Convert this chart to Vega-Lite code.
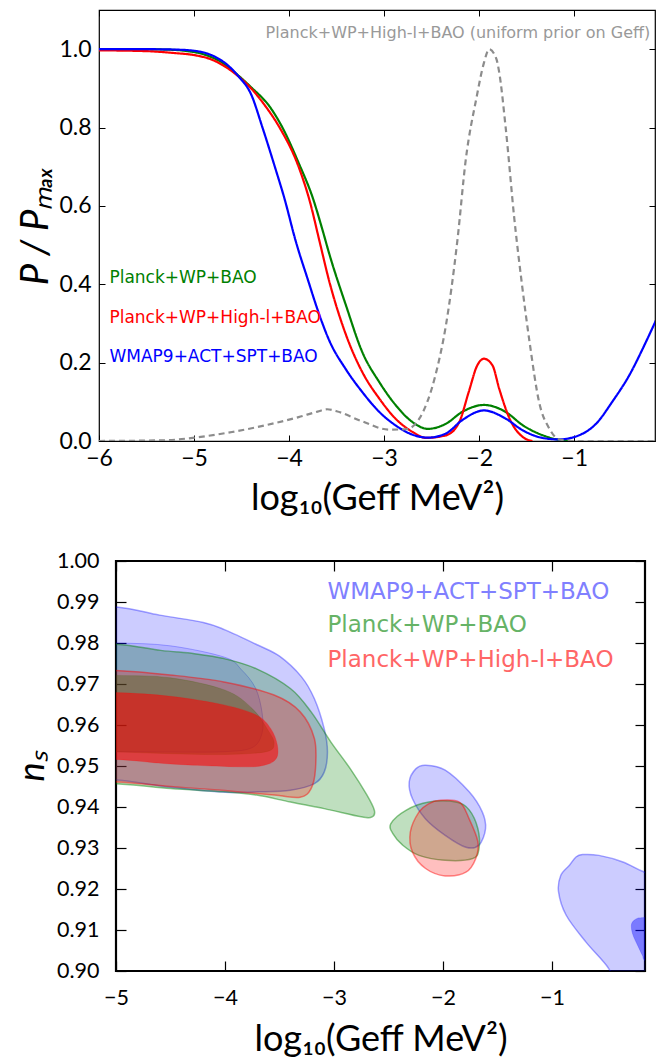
{
  "$schema": "https://vega.github.io/schema/vega-lite/v6.json",
  "background": "white",
  "padding": {"left": 13, "top": 8, "right": 0, "bottom": 0},
  "bounds": "flush",
  "spacing": 120,
  "resolve": {"scale": {"color": "independent"}},
  "config": {
    "view": {"stroke": "black"},
    "axis": {"domain": false, "grid": false, "tickColor": "black", "labelColor": "black", "titleColor": "black", "labelFont": "Lato", "titleFont": "Lato", "labelFlush": false, "labelOverlap": false, "titleFontWeight": "normal"}
  },
  "datasets": {
    "curves": [
      {"s": "Planck+WP+BAO", "x": -6, "y": 1.0}, {"s": "Planck+WP+BAO", "x": -5.6, "y": 1.0}, {"s": "Planck+WP+BAO", "x": -5.3, "y": 0.999}, {"s": "Planck+WP+BAO", "x": -5.1, "y": 0.996}, {"s": "Planck+WP+BAO", "x": -4.9, "y": 0.987}, {"s": "Planck+WP+BAO", "x": -4.7, "y": 0.965}, {"s": "Planck+WP+BAO", "x": -4.53, "y": 0.932}, {"s": "Planck+WP+BAO", "x": -4.4, "y": 0.903}, {"s": "Planck+WP+BAO", "x": -4.2, "y": 0.852}, {"s": "Planck+WP+BAO", "x": -4.07, "y": 0.8}, {"s": "Planck+WP+BAO", "x": -3.9, "y": 0.71}, {"s": "Planck+WP+BAO", "x": -3.75, "y": 0.62}, {"s": "Planck+WP+BAO", "x": -3.65, "y": 0.54}, {"s": "Planck+WP+BAO", "x": -3.58, "y": 0.48}, {"s": "Planck+WP+BAO", "x": -3.4, "y": 0.345}, {"s": "Planck+WP+BAO", "x": -3.23, "y": 0.227}, {"s": "Planck+WP+BAO", "x": -3.05, "y": 0.15}, {"s": "Planck+WP+BAO", "x": -2.88, "y": 0.092}, {"s": "Planck+WP+BAO", "x": -2.7, "y": 0.048}, {"s": "Planck+WP+BAO", "x": -2.54, "y": 0.031}, {"s": "Planck+WP+BAO", "x": -2.35, "y": 0.044}, {"s": "Planck+WP+BAO", "x": -2.18, "y": 0.074}, {"s": "Planck+WP+BAO", "x": -1.95, "y": 0.092}, {"s": "Planck+WP+BAO", "x": -1.72, "y": 0.074}, {"s": "Planck+WP+BAO", "x": -1.54, "y": 0.04}, {"s": "Planck+WP+BAO", "x": -1.33, "y": 0.0145}, {"s": "Planck+WP+BAO", "x": -1.16, "y": 0.003}, {"s": "Planck+WP+BAO", "x": -1.05, "y": 0.0},
      {"s": "Planck+WP+High-l+BAO", "x": -6, "y": 0.997}, {"s": "Planck+WP+High-l+BAO", "x": -5.5, "y": 0.995}, {"s": "Planck+WP+High-l+BAO", "x": -5.2, "y": 0.99}, {"s": "Planck+WP+High-l+BAO", "x": -5.0, "y": 0.985}, {"s": "Planck+WP+High-l+BAO", "x": -4.8, "y": 0.972}, {"s": "Planck+WP+High-l+BAO", "x": -4.65, "y": 0.952}, {"s": "Planck+WP+High-l+BAO", "x": -4.53, "y": 0.93}, {"s": "Planck+WP+High-l+BAO", "x": -4.4, "y": 0.9}, {"s": "Planck+WP+High-l+BAO", "x": -4.25, "y": 0.855}, {"s": "Planck+WP+High-l+BAO", "x": -4.1, "y": 0.8}, {"s": "Planck+WP+High-l+BAO", "x": -3.9, "y": 0.7}, {"s": "Planck+WP+High-l+BAO", "x": -3.78, "y": 0.61}, {"s": "Planck+WP+High-l+BAO", "x": -3.68, "y": 0.51}, {"s": "Planck+WP+High-l+BAO", "x": -3.58, "y": 0.41}, {"s": "Planck+WP+High-l+BAO", "x": -3.4, "y": 0.27}, {"s": "Planck+WP+High-l+BAO", "x": -3.23, "y": 0.176}, {"s": "Planck+WP+High-l+BAO", "x": -3.05, "y": 0.108}, {"s": "Planck+WP+High-l+BAO", "x": -2.88, "y": 0.057}, {"s": "Planck+WP+High-l+BAO", "x": -2.7, "y": 0.023}, {"s": "Planck+WP+High-l+BAO", "x": -2.56, "y": 0.008}, {"s": "Planck+WP+High-l+BAO", "x": -2.35, "y": 0.0145}, {"s": "Planck+WP+High-l+BAO", "x": -2.21, "y": 0.048}, {"s": "Planck+WP+High-l+BAO", "x": -2.11, "y": 0.125}, {"s": "Planck+WP+High-l+BAO", "x": -2.02, "y": 0.193}, {"s": "Planck+WP+High-l+BAO", "x": -1.95, "y": 0.21}, {"s": "Planck+WP+High-l+BAO", "x": -1.86, "y": 0.193}, {"s": "Planck+WP+High-l+BAO", "x": -1.79, "y": 0.134}, {"s": "Planck+WP+High-l+BAO", "x": -1.68, "y": 0.057}, {"s": "Planck+WP+High-l+BAO", "x": -1.54, "y": 0.01}, {"s": "Planck+WP+High-l+BAO", "x": -1.44, "y": 0.0},
      {"s": "WMAP9+ACT+SPT+BAO", "x": -6, "y": 1.0}, {"s": "WMAP9+ACT+SPT+BAO", "x": -5.5, "y": 1.0}, {"s": "WMAP9+ACT+SPT+BAO", "x": -5.2, "y": 0.999}, {"s": "WMAP9+ACT+SPT+BAO", "x": -5.0, "y": 0.996}, {"s": "WMAP9+ACT+SPT+BAO", "x": -4.8, "y": 0.983}, {"s": "WMAP9+ACT+SPT+BAO", "x": -4.65, "y": 0.96}, {"s": "WMAP9+ACT+SPT+BAO", "x": -4.53, "y": 0.93}, {"s": "WMAP9+ACT+SPT+BAO", "x": -4.4, "y": 0.885}, {"s": "WMAP9+ACT+SPT+BAO", "x": -4.28, "y": 0.8}, {"s": "WMAP9+ACT+SPT+BAO", "x": -4.15, "y": 0.7}, {"s": "WMAP9+ACT+SPT+BAO", "x": -4.05, "y": 0.62}, {"s": "WMAP9+ACT+SPT+BAO", "x": -3.93, "y": 0.51}, {"s": "WMAP9+ACT+SPT+BAO", "x": -3.8, "y": 0.41}, {"s": "WMAP9+ACT+SPT+BAO", "x": -3.7, "y": 0.335}, {"s": "WMAP9+ACT+SPT+BAO", "x": -3.58, "y": 0.258}, {"s": "WMAP9+ACT+SPT+BAO", "x": -3.4, "y": 0.182}, {"s": "WMAP9+ACT+SPT+BAO", "x": -3.23, "y": 0.125}, {"s": "WMAP9+ACT+SPT+BAO", "x": -3.05, "y": 0.074}, {"s": "WMAP9+ACT+SPT+BAO", "x": -2.88, "y": 0.04}, {"s": "WMAP9+ACT+SPT+BAO", "x": -2.7, "y": 0.016}, {"s": "WMAP9+ACT+SPT+BAO", "x": -2.54, "y": 0.0085}, {"s": "WMAP9+ACT+SPT+BAO", "x": -2.35, "y": 0.019}, {"s": "WMAP9+ACT+SPT+BAO", "x": -2.18, "y": 0.053}, {"s": "WMAP9+ACT+SPT+BAO", "x": -1.95, "y": 0.078}, {"s": "WMAP9+ACT+SPT+BAO", "x": -1.72, "y": 0.057}, {"s": "WMAP9+ACT+SPT+BAO", "x": -1.54, "y": 0.027}, {"s": "WMAP9+ACT+SPT+BAO", "x": -1.33, "y": 0.0077}, {"s": "WMAP9+ACT+SPT+BAO", "x": -1.16, "y": 0.004}, {"s": "WMAP9+ACT+SPT+BAO", "x": -0.95, "y": 0.0145}, {"s": "WMAP9+ACT+SPT+BAO", "x": -0.77, "y": 0.044}, {"s": "WMAP9+ACT+SPT+BAO", "x": -0.6, "y": 0.1}, {"s": "WMAP9+ACT+SPT+BAO", "x": -0.42, "y": 0.168}, {"s": "WMAP9+ACT+SPT+BAO", "x": -0.245, "y": 0.253}, {"s": "WMAP9+ACT+SPT+BAO", "x": -0.14, "y": 0.308},
      {"s": "uniform", "x": -6, "y": 0.0}, {"s": "uniform", "x": -5.3, "y": 0.002}, {"s": "uniform", "x": -4.95, "y": 0.01}, {"s": "uniform", "x": -4.6, "y": 0.023}, {"s": "uniform", "x": -4.25, "y": 0.04}, {"s": "uniform", "x": -3.9, "y": 0.061}, {"s": "uniform", "x": -3.7, "y": 0.075}, {"s": "uniform", "x": -3.6, "y": 0.081}, {"s": "uniform", "x": -3.5, "y": 0.076}, {"s": "uniform", "x": -3.23, "y": 0.05}, {"s": "uniform", "x": -2.95, "y": 0.029}, {"s": "uniform", "x": -2.77, "y": 0.03}, {"s": "uniform", "x": -2.63, "y": 0.057}, {"s": "uniform", "x": -2.46, "y": 0.168}, {"s": "uniform", "x": -2.35, "y": 0.295}, {"s": "uniform", "x": -2.23, "y": 0.51}, {"s": "uniform", "x": -2.14, "y": 0.72}, {"s": "uniform", "x": -2.03, "y": 0.874}, {"s": "uniform", "x": -1.95, "y": 0.965}, {"s": "uniform", "x": -1.895, "y": 1.0}, {"s": "uniform", "x": -1.82, "y": 0.976}, {"s": "uniform", "x": -1.79, "y": 0.942}, {"s": "uniform", "x": -1.72, "y": 0.797}, {"s": "uniform", "x": -1.63, "y": 0.567}, {"s": "uniform", "x": -1.55, "y": 0.4}, {"s": "uniform", "x": -1.47, "y": 0.253}, {"s": "uniform", "x": -1.37, "y": 0.1}, {"s": "uniform", "x": -1.26, "y": 0.031}, {"s": "uniform", "x": -1.16, "y": 0.004}, {"s": "uniform", "x": -1.0, "y": 0.0}, {"s": "uniform", "x": -0.15, "y": 0.0}
    ],
    "toplabels": [
      {"t": "Planck+WP+BAO", "s": "Planck+WP+BAO", "x": -5.89, "y": 0.416},
      {"t": "Planck+WP+High-l+BAO", "s": "Planck+WP+High-l+BAO", "x": -5.89, "y": 0.314},
      {"t": "WMAP9+ACT+SPT+BAO", "s": "WMAP9+ACT+SPT+BAO", "x": -5.89, "y": 0.214}
    ],
    "topnote": [
      {"t": "Planck+WP+High-l+BAO (uniform prior on Geff)", "x": -0.2, "y": 1.042}
    ],
    "legend2": [
      {"t": "WMAP9+ACT+SPT+BAO", "s": "WMAP9+ACT+SPT+BAO", "x": -3.06, "y": 0.9924},
      {"t": "Planck+WP+BAO", "s": "Planck+WP+BAO", "x": -3.06, "y": 0.9844},
      {"t": "Planck+WP+High-l+BAO", "s": "Planck+WP+High-l+BAO", "x": -3.06, "y": 0.9759}
    ],
    "contours": [
      {"r": "b95", "p": "L", "i": 0, "x": -5.6, "y": 0.9889}, {"r": "b95", "p": "L", "i": 1, "x": -5.0, "y": 0.9888}, {"r": "b95", "p": "L", "i": 2, "x": -4.6, "y": 0.9868}, {"r": "b95", "p": "L", "i": 3, "x": -4.2, "y": 0.985}, {"r": "b95", "p": "L", "i": 4, "x": -4.0, "y": 0.9832}, {"r": "b95", "p": "L", "i": 5, "x": -3.7, "y": 0.9795}, {"r": "b95", "p": "L", "i": 6, "x": -3.5, "y": 0.9768}, {"r": "b95", "p": "L", "i": 7, "x": -3.3, "y": 0.9718}, {"r": "b95", "p": "L", "i": 8, "x": -3.18, "y": 0.9664}, {"r": "b95", "p": "L", "i": 9, "x": -3.09, "y": 0.9591}, {"r": "b95", "p": "L", "i": 10, "x": -3.06, "y": 0.9534}, {"r": "b95", "p": "L", "i": 11, "x": -3.09, "y": 0.9485}, {"r": "b95", "p": "L", "i": 12, "x": -3.18, "y": 0.9457}, {"r": "b95", "p": "L", "i": 13, "x": -3.4, "y": 0.9441}, {"r": "b95", "p": "L", "i": 14, "x": -3.7, "y": 0.9437}, {"r": "b95", "p": "L", "i": 15, "x": -4.0, "y": 0.9436}, {"r": "b95", "p": "L", "i": 16, "x": -4.5, "y": 0.9448}, {"r": "b95", "p": "L", "i": 17, "x": -5.0, "y": 0.9466}, {"r": "b95", "p": "L", "i": 18, "x": -5.6, "y": 0.9467},
      {"r": "b95", "p": "M", "i": 0, "x": -2.16, "y": 0.9502}, {"r": "b95", "p": "M", "i": 1, "x": -1.98, "y": 0.949}, {"r": "b95", "p": "M", "i": 2, "x": -1.76, "y": 0.9437}, {"r": "b95", "p": "M", "i": 3, "x": -1.64, "y": 0.9388}, {"r": "b95", "p": "M", "i": 4, "x": -1.61, "y": 0.9347}, {"r": "b95", "p": "M", "i": 5, "x": -1.67, "y": 0.9307}, {"r": "b95", "p": "M", "i": 6, "x": -1.79, "y": 0.9302}, {"r": "b95", "p": "M", "i": 7, "x": -1.98, "y": 0.9331}, {"r": "b95", "p": "M", "i": 8, "x": -2.16, "y": 0.9371}, {"r": "b95", "p": "M", "i": 9, "x": -2.28, "y": 0.942}, {"r": "b95", "p": "M", "i": 10, "x": -2.31, "y": 0.9461}, {"r": "b95", "p": "M", "i": 11, "x": -2.25, "y": 0.9493},
      {"r": "b95", "p": "R", "i": 0, "x": -0.72, "y": 0.9284}, {"r": "b95", "p": "R", "i": 1, "x": -0.78, "y": 0.9278}, {"r": "b95", "p": "R", "i": 2, "x": -0.84, "y": 0.9258}, {"r": "b95", "p": "R", "i": 3, "x": -0.92, "y": 0.9233}, {"r": "b95", "p": "R", "i": 4, "x": -0.94, "y": 0.9193}, {"r": "b95", "p": "R", "i": 5, "x": -0.87, "y": 0.9136}, {"r": "b95", "p": "R", "i": 6, "x": -0.69, "y": 0.9071}, {"r": "b95", "p": "R", "i": 7, "x": -0.48, "y": 0.9006}, {"r": "b95", "p": "R", "i": 8, "x": -0.44, "y": 0.8965}, {"r": "b95", "p": "R", "i": 9, "x": -0.35, "y": 0.885}, {"r": "b95", "p": "R", "i": 10, "x": 0.15, "y": 0.885}, {"r": "b95", "p": "R", "i": 11, "x": 0.15, "y": 0.9225}, {"r": "b95", "p": "R", "i": 12, "x": -0.12, "y": 0.9238}, {"r": "b95", "p": "R", "i": 13, "x": -0.35, "y": 0.9266}, {"r": "b95", "p": "R", "i": 14, "x": -0.57, "y": 0.9282},
      {"r": "b68", "p": "L", "i": 0, "x": -5.6, "y": 0.98}, {"r": "b68", "p": "L", "i": 1, "x": -5.0, "y": 0.98}, {"r": "b68", "p": "L", "i": 2, "x": -4.5, "y": 0.9793}, {"r": "b68", "p": "L", "i": 3, "x": -4.0, "y": 0.9765}, {"r": "b68", "p": "L", "i": 4, "x": -3.85, "y": 0.9735}, {"r": "b68", "p": "L", "i": 5, "x": -3.72, "y": 0.969}, {"r": "b68", "p": "L", "i": 6, "x": -3.66, "y": 0.963}, {"r": "b68", "p": "L", "i": 7, "x": -3.66, "y": 0.958}, {"r": "b68", "p": "L", "i": 8, "x": -3.75, "y": 0.9545}, {"r": "b68", "p": "L", "i": 9, "x": -4.0, "y": 0.9535}, {"r": "b68", "p": "L", "i": 10, "x": -4.5, "y": 0.9534}, {"r": "b68", "p": "L", "i": 11, "x": -5.0, "y": 0.9535}, {"r": "b68", "p": "L", "i": 12, "x": -5.6, "y": 0.9535},
      {"r": "b68", "p": "R", "i": 0, "x": -0.27, "y": 0.9115}, {"r": "b68", "p": "R", "i": 1, "x": -0.22, "y": 0.9128}, {"r": "b68", "p": "R", "i": 2, "x": -0.14, "y": 0.9131}, {"r": "b68", "p": "R", "i": 3, "x": 0.15, "y": 0.914}, {"r": "b68", "p": "R", "i": 4, "x": 0.15, "y": 0.895}, {"r": "b68", "p": "R", "i": 5, "x": -0.13, "y": 0.902}, {"r": "b68", "p": "R", "i": 6, "x": -0.17, "y": 0.9038}, {"r": "b68", "p": "R", "i": 7, "x": -0.21, "y": 0.906}, {"r": "b68", "p": "R", "i": 8, "x": -0.26, "y": 0.909},
      {"r": "g95", "p": "L", "i": 0, "x": -5.6, "y": 0.98}, {"r": "g95", "p": "L", "i": 1, "x": -5.0, "y": 0.9797}, {"r": "g95", "p": "L", "i": 2, "x": -4.59, "y": 0.9782}, {"r": "g95", "p": "L", "i": 3, "x": -4.28, "y": 0.9774}, {"r": "g95", "p": "L", "i": 4, "x": -4.01, "y": 0.9762}, {"r": "g95", "p": "L", "i": 5, "x": -3.71, "y": 0.9737}, {"r": "g95", "p": "L", "i": 6, "x": -3.4, "y": 0.9689}, {"r": "g95", "p": "L", "i": 7, "x": -3.21, "y": 0.9632}, {"r": "g95", "p": "L", "i": 8, "x": -3.03, "y": 0.9559}, {"r": "g95", "p": "L", "i": 9, "x": -2.85, "y": 0.9493}, {"r": "g95", "p": "L", "i": 10, "x": -2.7, "y": 0.943}, {"r": "g95", "p": "L", "i": 11, "x": -2.63, "y": 0.9392}, {"r": "g95", "p": "L", "i": 12, "x": -2.65, "y": 0.9376}, {"r": "g95", "p": "L", "i": 13, "x": -2.75, "y": 0.9376}, {"r": "g95", "p": "L", "i": 14, "x": -3.09, "y": 0.9396}, {"r": "g95", "p": "L", "i": 15, "x": -3.4, "y": 0.9412}, {"r": "g95", "p": "L", "i": 16, "x": -3.71, "y": 0.9429}, {"r": "g95", "p": "L", "i": 17, "x": -4.01, "y": 0.9437}, {"r": "g95", "p": "L", "i": 18, "x": -4.5, "y": 0.9445}, {"r": "g95", "p": "L", "i": 19, "x": -5.0, "y": 0.9457}, {"r": "g95", "p": "L", "i": 20, "x": -5.6, "y": 0.9458},
      {"r": "g95", "p": "M", "i": 0, "x": -2.48, "y": 0.9359}, {"r": "g95", "p": "M", "i": 1, "x": -2.34, "y": 0.9392}, {"r": "g95", "p": "M", "i": 2, "x": -2.13, "y": 0.9412}, {"r": "g95", "p": "M", "i": 3, "x": -1.88, "y": 0.9412}, {"r": "g95", "p": "M", "i": 4, "x": -1.76, "y": 0.9393}, {"r": "g95", "p": "M", "i": 5, "x": -1.68, "y": 0.9347}, {"r": "g95", "p": "M", "i": 6, "x": -1.67, "y": 0.9298}, {"r": "g95", "p": "M", "i": 7, "x": -1.73, "y": 0.9274}, {"r": "g95", "p": "M", "i": 8, "x": -1.98, "y": 0.927}, {"r": "g95", "p": "M", "i": 9, "x": -2.22, "y": 0.9282}, {"r": "g95", "p": "M", "i": 10, "x": -2.37, "y": 0.9307}, {"r": "g95", "p": "M", "i": 11, "x": -2.46, "y": 0.9335},
      {"r": "g68", "p": "L", "i": 0, "x": -5.6, "y": 0.9722}, {"r": "g68", "p": "L", "i": 1, "x": -5.0, "y": 0.9721}, {"r": "g68", "p": "L", "i": 2, "x": -4.5, "y": 0.9715}, {"r": "g68", "p": "L", "i": 3, "x": -4.0, "y": 0.9685}, {"r": "g68", "p": "L", "i": 4, "x": -3.75, "y": 0.964}, {"r": "g68", "p": "L", "i": 5, "x": -3.6, "y": 0.9585}, {"r": "g68", "p": "L", "i": 6, "x": -3.55, "y": 0.9555}, {"r": "g68", "p": "L", "i": 7, "x": -3.62, "y": 0.9535}, {"r": "g68", "p": "L", "i": 8, "x": -4.0, "y": 0.9528}, {"r": "g68", "p": "L", "i": 9, "x": -4.5, "y": 0.953}, {"r": "g68", "p": "L", "i": 10, "x": -5.0, "y": 0.9534}, {"r": "g68", "p": "L", "i": 11, "x": -5.6, "y": 0.9534},
      {"r": "r95", "p": "L", "i": 0, "x": -5.6, "y": 0.9735}, {"r": "r95", "p": "L", "i": 1, "x": -5.0, "y": 0.9733}, {"r": "r95", "p": "L", "i": 2, "x": -4.5, "y": 0.9722}, {"r": "r95", "p": "L", "i": 3, "x": -4.01, "y": 0.9705}, {"r": "r95", "p": "L", "i": 4, "x": -3.55, "y": 0.9673}, {"r": "r95", "p": "L", "i": 5, "x": -3.31, "y": 0.9632}, {"r": "r95", "p": "L", "i": 6, "x": -3.18, "y": 0.9567}, {"r": "r95", "p": "L", "i": 7, "x": -3.17, "y": 0.9493}, {"r": "r95", "p": "L", "i": 8, "x": -3.21, "y": 0.9445}, {"r": "r95", "p": "L", "i": 9, "x": -3.31, "y": 0.9424}, {"r": "r95", "p": "L", "i": 10, "x": -3.55, "y": 0.9429}, {"r": "r95", "p": "L", "i": 11, "x": -4.0, "y": 0.944}, {"r": "r95", "p": "L", "i": 12, "x": -4.5, "y": 0.945}, {"r": "r95", "p": "L", "i": 13, "x": -5.0, "y": 0.9461}, {"r": "r95", "p": "L", "i": 14, "x": -5.6, "y": 0.9462},
      {"r": "r95", "p": "M", "i": 0, "x": -2.04, "y": 0.9416}, {"r": "r95", "p": "M", "i": 1, "x": -1.85, "y": 0.9412}, {"r": "r95", "p": "M", "i": 2, "x": -1.76, "y": 0.9371}, {"r": "r95", "p": "M", "i": 3, "x": -1.68, "y": 0.9315}, {"r": "r95", "p": "M", "i": 4, "x": -1.7, "y": 0.9274}, {"r": "r95", "p": "M", "i": 5, "x": -1.79, "y": 0.9241}, {"r": "r95", "p": "M", "i": 6, "x": -1.98, "y": 0.9232}, {"r": "r95", "p": "M", "i": 7, "x": -2.16, "y": 0.925}, {"r": "r95", "p": "M", "i": 8, "x": -2.28, "y": 0.929}, {"r": "r95", "p": "M", "i": 9, "x": -2.3, "y": 0.9339}, {"r": "r95", "p": "M", "i": 10, "x": -2.22, "y": 0.9388}, {"r": "r95", "p": "M", "i": 11, "x": -2.13, "y": 0.9408},
      {"r": "r68", "p": "L", "i": 0, "x": -5.6, "y": 0.968}, {"r": "r68", "p": "L", "i": 1, "x": -5.0, "y": 0.9679}, {"r": "r68", "p": "L", "i": 2, "x": -4.5, "y": 0.967}, {"r": "r68", "p": "L", "i": 3, "x": -4.01, "y": 0.9649}, {"r": "r68", "p": "L", "i": 4, "x": -3.71, "y": 0.9624}, {"r": "r68", "p": "L", "i": 5, "x": -3.58, "y": 0.9591}, {"r": "r68", "p": "L", "i": 6, "x": -3.52, "y": 0.9551}, {"r": "r68", "p": "L", "i": 7, "x": -3.53, "y": 0.9518}, {"r": "r68", "p": "L", "i": 8, "x": -3.64, "y": 0.9502}, {"r": "r68", "p": "L", "i": 9, "x": -3.86, "y": 0.9498}, {"r": "r68", "p": "L", "i": 10, "x": -4.5, "y": 0.9505}, {"r": "r68", "p": "L", "i": 11, "x": -5.0, "y": 0.9516}, {"r": "r68", "p": "L", "i": 12, "x": -5.6, "y": 0.9517}
    ]
  },
  "vconcat": [
    {
      "width": 556,
      "height": 431,
      "view": {"stroke": "black", "strokeWidth": 1.2},
      "resolve": {"axis": {"x": "independent", "y": "independent"}},
      "layer": [
        {
          "data": {"name": "curves"},
          "mark": {"type": "line", "interpolate": "monotone", "strokeWidth": 2.2, "clip": true},
          "encoding": {
            "x": {"field": "x", "type": "quantitative", "scale": {"domain": [-6, -0.15], "nice": false, "zero": false},
              "axis": {"orient": "bottom", "values": [-6, -5, -4, -3, -2, -1], "format": "d", "tickSize": -6, "labelPadding": 12, "labelFontSize": 23, "title": "log₁₀(Geff MeV²)", "titleFontSize": 36, "titlePadding": 11}},
            "y": {"field": "y", "type": "quantitative", "scale": {"domain": [0, 1.1], "nice": false, "zero": false},
              "axis": {"orient": "left", "values": [0, 0.2, 0.4, 0.6, 0.8, 1.0], "format": ".1f", "tickSize": -6, "labelPadding": 14, "labelFontSize": 23, "title": "P / Pₘₐₓ", "titleFontSize": 38, "titleFontStyle": "italic", "titlePadding": 3}},
            "color": {"field": "s", "type": "nominal", "scale": {"domain": ["uniform", "Planck+WP+BAO", "Planck+WP+High-l+BAO", "WMAP9+ACT+SPT+BAO"], "range": ["#8c8c8c", "#008000", "#ff0000", "#0000ff"]}, "legend": null},
            "strokeDash": {"field": "s", "type": "nominal", "scale": {"domain": ["uniform", "Planck+WP+BAO", "Planck+WP+High-l+BAO", "WMAP9+ACT+SPT+BAO"], "range": [[6, 4], [1, 0], [1, 0], [1, 0]]}, "legend": null}
          }
        },
        {
          "data": {"name": "toplabels"},
          "mark": {"type": "text", "align": "left", "baseline": "middle", "font": "DejaVu Sans", "fontSize": 17},
          "encoding": {
            "x": {"field": "x", "type": "quantitative", "axis": {"orient": "top", "values": [-6, -5, -4, -3, -2, -1], "labels": false, "tickSize": -6, "title": null}},
            "y": {"field": "y", "type": "quantitative", "axis": {"orient": "right", "values": [0, 0.2, 0.4, 0.6, 0.8, 1.0], "labels": false, "tickSize": -6, "title": null}},
            "text": {"field": "t"},
            "color": {"field": "s", "type": "nominal", "legend": null}
          }
        },
        {
          "data": {"name": "topnote"},
          "mark": {"type": "text", "align": "right", "baseline": "middle", "font": "DejaVu Sans", "fontSize": 16, "color": "#999999"},
          "encoding": {
            "x": {"field": "x", "type": "quantitative", "axis": null},
            "y": {"field": "y", "type": "quantitative", "axis": null},
            "text": {"field": "t"}
          }
        }
      ]
    },
    {
      "hconcat": [
        {
          "width": 17,
          "height": 410,
          "data": {"values": []},
          "mark": {"type": "point", "opacity": 0},
          "view": {"stroke": null}
        },
        {
          "width": 529,
          "height": 410,
          "view": {"stroke": "black", "strokeWidth": 2.2},
          "resolve": {"axis": {"x": "independent", "y": "independent"}},
          "layer": [
            {
              "data": {"name": "contours"},
              "transform": [{"filter": "datum.r === 'b95'"}],
              "mark": {"type": "line", "interpolate": "cardinal-closed", "filled": true, "fill": "#0000ff", "fillOpacity": 0.2, "stroke": "#0000ff", "strokeOpacity": 0.35, "strokeWidth": 1.5, "clip": true},
              "encoding": {
                "x": {"field": "x", "type": "quantitative", "scale": {"domain": [-5, -0.147], "nice": false, "zero": false},
                  "axis": {"orient": "bottom", "values": [-5, -4, -3, -2, -1], "format": "d", "tickSize": -10, "tickWidth": 1.2, "labelPadding": 26, "labelFontSize": 21.5, "title": "log₁₀(Geff MeV²)", "titleFontSize": 36, "titlePadding": 14}},
                "y": {"field": "y", "type": "quantitative", "scale": {"domain": [0.9, 1.0], "nice": false, "zero": false},
                  "axis": {"orient": "left", "values": [0.9, 0.91, 0.92, 0.93, 0.94, 0.95, 0.96, 0.97, 0.98, 0.99, 1.0], "format": ".2f", "tickSize": -10, "tickWidth": 1.2, "labelPadding": 27, "labelFontSize": 21.5, "title": "nₛ", "titleFontSize": 36, "titleFontStyle": "italic", "titlePadding": 5}},
                "detail": {"field": "p"},
                "order": {"field": "i", "type": "quantitative"}
              }
            },
            {
              "data": {"name": "contours"},
              "transform": [{"filter": "datum.r === 'b68' && datum.p === 'L'"}],
              "mark": {"type": "line", "interpolate": "cardinal-closed", "filled": true, "fill": "#0000ff", "fillOpacity": 0.12, "stroke": "#0000ff", "strokeOpacity": 0.25, "strokeWidth": 1, "clip": true},
              "encoding": {
                "x": {"field": "x", "type": "quantitative", "axis": null},
                "y": {"field": "y", "type": "quantitative", "axis": null},
                "detail": {"field": "p"},
                "order": {"field": "i", "type": "quantitative"}
              }
            },
            {
              "data": {"name": "contours"},
              "transform": [{"filter": "datum.r === 'b68' && datum.p === 'R'"}],
              "mark": {"type": "line", "interpolate": "cardinal-closed", "filled": true, "fill": "#0000ff", "fillOpacity": 0.4, "stroke": "#0000ff", "strokeOpacity": 0.2, "strokeWidth": 1, "clip": true},
              "encoding": {
                "x": {"field": "x", "type": "quantitative", "axis": null},
                "y": {"field": "y", "type": "quantitative", "axis": null},
                "detail": {"field": "p"},
                "order": {"field": "i", "type": "quantitative"}
              }
            },
            {
              "data": {"name": "contours"},
              "transform": [{"filter": "datum.r === 'g95'"}],
              "mark": {"type": "line", "interpolate": "cardinal-closed", "filled": true, "fill": "#008000", "fillOpacity": 0.25, "stroke": "#008000", "strokeOpacity": 0.45, "strokeWidth": 1.5, "clip": true},
              "encoding": {
                "x": {"field": "x", "type": "quantitative", "axis": null},
                "y": {"field": "y", "type": "quantitative", "axis": null},
                "detail": {"field": "p"},
                "order": {"field": "i", "type": "quantitative"}
              }
            },
            {
              "data": {"name": "contours"},
              "transform": [{"filter": "datum.r === 'g68'"}],
              "mark": {"type": "line", "interpolate": "cardinal-closed", "filled": true, "fill": "#008000", "fillOpacity": 0.35, "stroke": "#008000", "strokeOpacity": 0.2, "strokeWidth": 1, "clip": true},
              "encoding": {
                "x": {"field": "x", "type": "quantitative", "axis": null},
                "y": {"field": "y", "type": "quantitative", "axis": null},
                "detail": {"field": "p"},
                "order": {"field": "i", "type": "quantitative"}
              }
            },
            {
              "data": {"name": "contours"},
              "transform": [{"filter": "datum.r === 'r95'"}],
              "mark": {"type": "line", "interpolate": "cardinal-closed", "filled": true, "fill": "#ff0000", "fillOpacity": 0.25, "stroke": "#ff0000", "strokeOpacity": 0.45, "strokeWidth": 1.5, "clip": true},
              "encoding": {
                "x": {"field": "x", "type": "quantitative", "axis": null},
                "y": {"field": "y", "type": "quantitative", "axis": null},
                "detail": {"field": "p"},
                "order": {"field": "i", "type": "quantitative"}
              }
            },
            {
              "data": {"name": "contours"},
              "transform": [{"filter": "datum.r === 'r68'"}],
              "mark": {"type": "line", "interpolate": "cardinal-closed", "filled": true, "fill": "#ff0000", "fillOpacity": 0.55, "stroke": "#ff0000", "strokeOpacity": 0.2, "strokeWidth": 1, "clip": true},
              "encoding": {
                "x": {"field": "x", "type": "quantitative", "axis": null},
                "y": {"field": "y", "type": "quantitative", "axis": null},
                "detail": {"field": "p"},
                "order": {"field": "i", "type": "quantitative"}
              }
            },
            {
              "data": {"name": "legend2"},
              "mark": {"type": "text", "align": "left", "baseline": "middle", "font": "DejaVu Sans", "fontSize": 23},
              "encoding": {
                "x": {"field": "x", "type": "quantitative", "axis": {"orient": "top", "values": [-5, -4, -3, -2, -1], "labels": false, "tickSize": -10, "tickWidth": 1.2, "title": null}},
                "y": {"field": "y", "type": "quantitative", "axis": {"orient": "right", "values": [0.9, 0.91, 0.92, 0.93, 0.94, 0.95, 0.96, 0.97, 0.98, 0.99, 1.0], "labels": false, "tickSize": -10, "tickWidth": 1.2, "title": null}},
                "text": {"field": "t"},
                "color": {"field": "s", "type": "nominal", "scale": {"domain": ["WMAP9+ACT+SPT+BAO", "Planck+WP+BAO", "Planck+WP+High-l+BAO"], "range": ["#8080ff", "#66b366", "#ff6666"]}, "legend": null}
              }
            }
          ]
        }
      ],
      "spacing": 0,
      "bounds": "flush"
    }
  ]
}
